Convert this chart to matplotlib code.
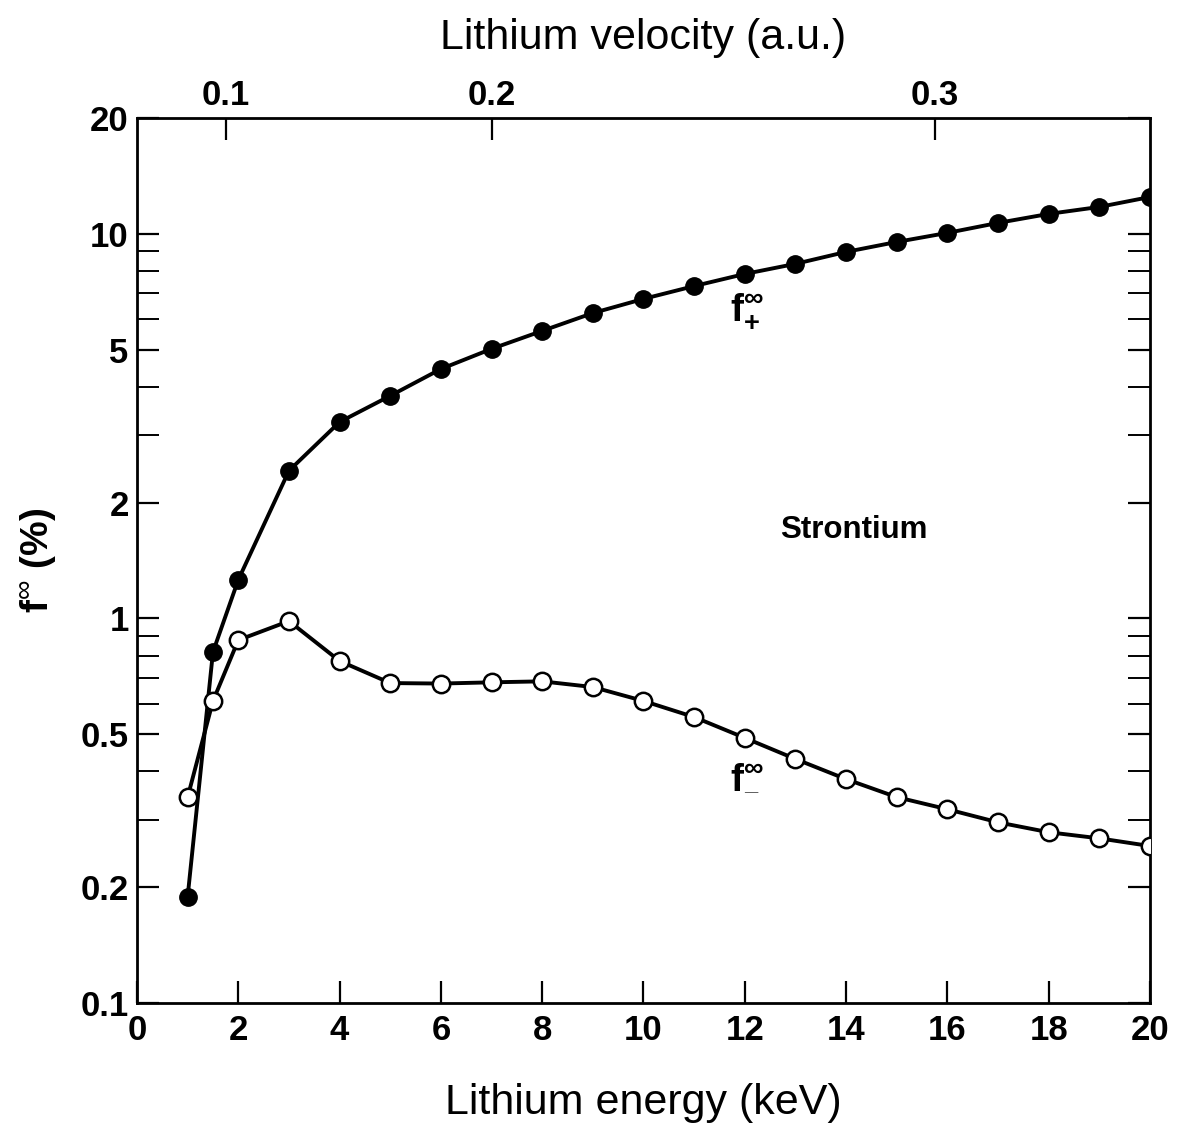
import numpy as np
import matplotlib
matplotlib.use('Agg')
import matplotlib.pyplot as plt
from matplotlib.ticker import FixedLocator, NullFormatter

plt.rcParams['font.family'] = ['Liberation Sans', 'DejaVu Sans']
plt.rcParams['mathtext.fontset'] = 'custom'
plt.rcParams['mathtext.rm'] = 'Liberation Sans'
plt.rcParams['mathtext.bf'] = 'Liberation Sans:bold'
plt.rcParams['mathtext.it'] = 'Liberation Sans:italic'

# energy (keV) and fractions (%)
energy = [1, 1.5, 2, 3, 4, 5, 6, 7, 8, 9, 10, 11, 12, 13, 14, 15, 16, 17, 18, 19, 20]
f_plus = [0.189, 0.818, 1.26, 2.42, 3.24, 3.79, 4.45, 5.02, 5.59, 6.22, 6.77,
          7.31, 7.86, 8.35, 8.97, 9.52, 10.05, 10.67, 11.26, 11.74, 12.46]
f_minus = [0.343, 0.610, 0.878, 0.984, 0.775, 0.679, 0.677, 0.682, 0.686, 0.663, 0.610,
           0.554, 0.489, 0.431, 0.382, 0.343, 0.319, 0.295, 0.278, 0.268, 0.256]

y_major = [0.1, 0.2, 0.5, 1, 2, 5, 10, 20]
y_major_labels = ['0.1', '0.2', '0.5', '1', '2', '5', '10', '20']
y_minor = [0.3, 0.4, 0.6, 0.7, 0.8, 0.9, 3, 4, 6, 7, 8, 9]
v_ticks = [0.1, 0.2, 0.3]
E_per_v2 = 175.0  # keV per (a.u.)^2 for Li

fig = plt.figure(figsize=(11.78, 11.33), dpi=100)
ax = fig.add_axes([0.1163, 0.1147, 0.8599, 0.7812])

ax.plot(energy, f_plus, '-', color='black', lw=2.8,
        marker='o', ms=12.5, mfc='black', mec='black', zorder=3)
ax.plot(energy, f_minus, '-', color='black', lw=2.8,
        marker='o', ms=12.5, mfc='white', mec='black', mew=1.8, zorder=4)

ax.set_yscale('log')
ax.set_xlim(0, 20)
ax.set_ylim(0.1, 20)
ax.set_xticks(np.arange(0, 21, 2))
ax.yaxis.set_major_locator(FixedLocator(y_major))
ax.set_yticklabels(y_major_labels)
ax.yaxis.set_minor_locator(FixedLocator(y_minor))
ax.yaxis.set_minor_formatter(NullFormatter())

ax.tick_params(axis='x', which='major', direction='in', length=16, width=1.6,
               labelsize=25, pad=8, top=False)
ax.tick_params(axis='y', which='major', direction='in', length=16, width=1.6,
               labelsize=25, pad=6, right=True)
ax.tick_params(axis='y', which='minor', direction='in', length=16, width=1.4,
               right=True)
for lab in ax.get_xticklabels() + ax.get_yticklabels():
    lab.set_fontweight('bold')
for s in ax.spines.values():
    s.set_linewidth(2)

secax = ax.secondary_xaxis('top', functions=(lambda e: np.sqrt(np.clip(e, 0, None) / E_per_v2),
                                             lambda v: E_per_v2 * np.asarray(v) ** 2))
secax.set_xticks(v_ticks)
secax.set_xticklabels(['0.1', '0.2', '0.3'])
secax.tick_params(direction='in', length=16, width=1.6, labelsize=25, pad=4)
for lab in secax.get_xticklabels():
    lab.set_fontweight('bold')
secax.set_xlabel('Lithium velocity (a.u.)', fontsize=31, labelpad=22)

ax.set_xlabel('Lithium energy (keV)', fontsize=31, labelpad=26)
ax.set_ylabel(r'f$^{\infty}$ (%)', fontsize=28, fontweight='bold', labelpad=16)

ax.text(14.15, 1.70, 'Strontium', fontsize=22.5, fontweight='bold', ha='center', va='center')
ax.text(12.05, 6.3, r'$\mathbf{f}^{\mathbf{\infty}}_{\mathbf{+}}$', fontsize=28,
        ha='center', va='center')
ax.text(12.05, 0.39, r'$\mathbf{f}^{\mathbf{\infty}}_{\mathbf{–}}$', fontsize=28,
        ha='center', va='center')

fig.savefig('out.png', dpi=100)
